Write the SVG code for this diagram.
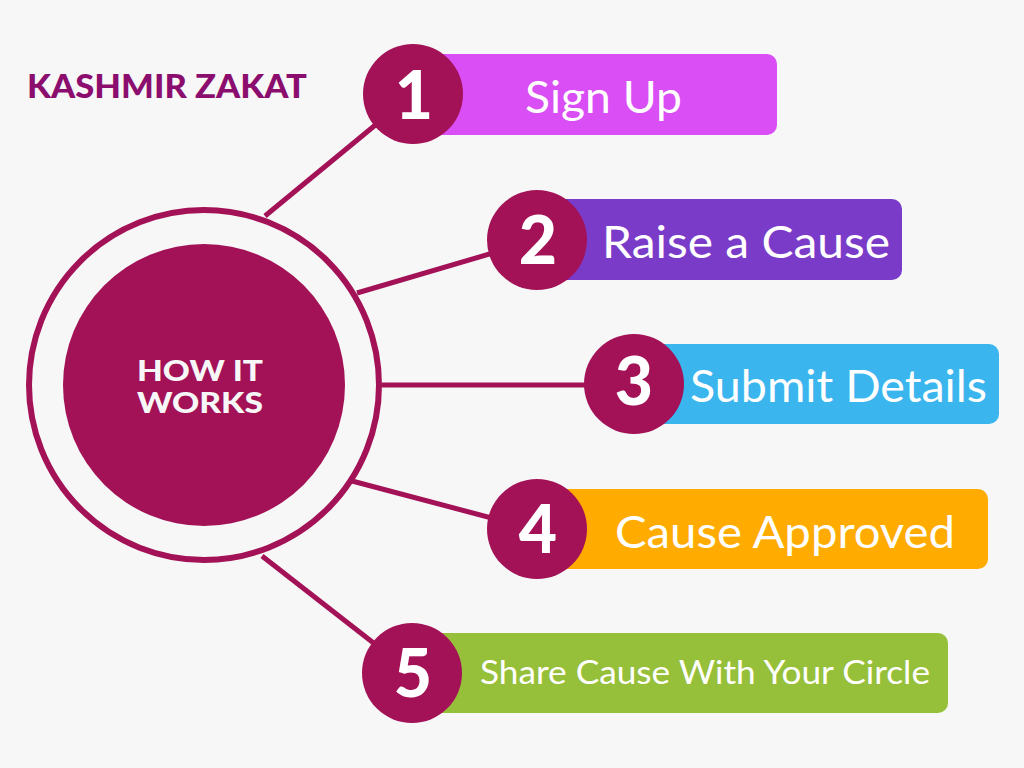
<svg xmlns="http://www.w3.org/2000/svg" width="1024" height="768" viewBox="0 0 1024 768">
<style>
.num{font-family:Lato,"Open Sans","Liberation Sans",sans-serif;font-weight:900;font-size:66px;fill:#ffffff;text-anchor:middle}
.lbl{font-family:Lato,"Open Sans","Liberation Sans",sans-serif;font-weight:400;fill:#ffffff}
.dot{fill:#A31157}
.conn{stroke:#A31157;stroke-width:5;fill:none}
.hw{font-family:Lato,"Open Sans","Liberation Sans",sans-serif;font-weight:900;font-size:28px;fill:#F7F7F7;text-anchor:middle}
</style>
<rect width="1024" height="768" fill="#F7F7F7"/>
<text id="title" x="27" y="98" font-family="Lato,'Liberation Sans',sans-serif" font-weight="900" font-size="33" fill="#8B0D6E" textLength="280" lengthAdjust="spacingAndGlyphs">KASHMIR ZAKAT</text>
<g id="connectors">
<line class="conn" x1="265" y1="216" x2="413" y2="94"/>
<line class="conn" x1="357" y1="293" x2="537" y2="240"/>
<line class="conn" x1="382" y1="385" x2="634" y2="385"/>
<line class="conn" x1="352" y1="481" x2="537" y2="530"/>
<line class="conn" x1="262" y1="556" x2="412" y2="673"/>
</g>
<g id="center">
<circle cx="204" cy="385" r="175" fill="none" stroke="#A31157" stroke-width="6"/>
<circle cx="204" cy="385" r="141" fill="#A31157"/>
<text class="hw" x="200" y="381" textLength="126" lengthAdjust="spacingAndGlyphs">HOW IT</text>
<text class="hw" x="200" y="413" textLength="126" lengthAdjust="spacingAndGlyphs">WORKS</text>
</g>
<g id="step1">
<rect x="413" y="54" width="364" height="81" rx="10" fill="#D94EF5"/>
<circle class="dot" cx="413" cy="94" r="50"/>
<text class="num" x="414" y="119">1</text>
<text class="lbl" x="525" y="113" font-size="44" textLength="157" lengthAdjust="spacingAndGlyphs">Sign Up</text>
</g>
<g id="step2">
<rect x="537" y="199" width="365" height="81" rx="10" fill="#7B3BC9"/>
<circle class="dot" cx="537" cy="240" r="50"/>
<text class="num" x="538" y="264">2</text>
<text class="lbl" x="602" y="258" font-size="44" textLength="288" lengthAdjust="spacingAndGlyphs">Raise a Cause</text>
</g>
<g id="step3">
<rect x="634" y="344" width="365" height="80" rx="10" fill="#3BB5EE"/>
<circle class="dot" cx="634" cy="384" r="50"/>
<text class="num" x="634" y="405">3</text>
<text class="lbl" x="690" y="402" font-size="44" textLength="297" lengthAdjust="spacingAndGlyphs">Submit Details</text>
</g>
<g id="step4">
<rect x="537" y="489" width="451" height="80" rx="10" fill="#FFAB00"/>
<circle class="dot" cx="537" cy="529" r="50"/>
<text class="num" x="538" y="553">4</text>
<text class="lbl" x="615" y="548" font-size="44" textLength="340" lengthAdjust="spacingAndGlyphs">Cause Approved</text>
</g>
<g id="step5">
<rect x="412" y="633" width="536" height="80" rx="10" fill="#97C03A"/>
<circle class="dot" cx="412" cy="673" r="50"/>
<text class="num" x="413" y="697">5</text>
<text class="lbl" x="480" y="684" font-size="33" textLength="450" lengthAdjust="spacingAndGlyphs">Share Cause With Your Circle</text>
</g>
</svg>
